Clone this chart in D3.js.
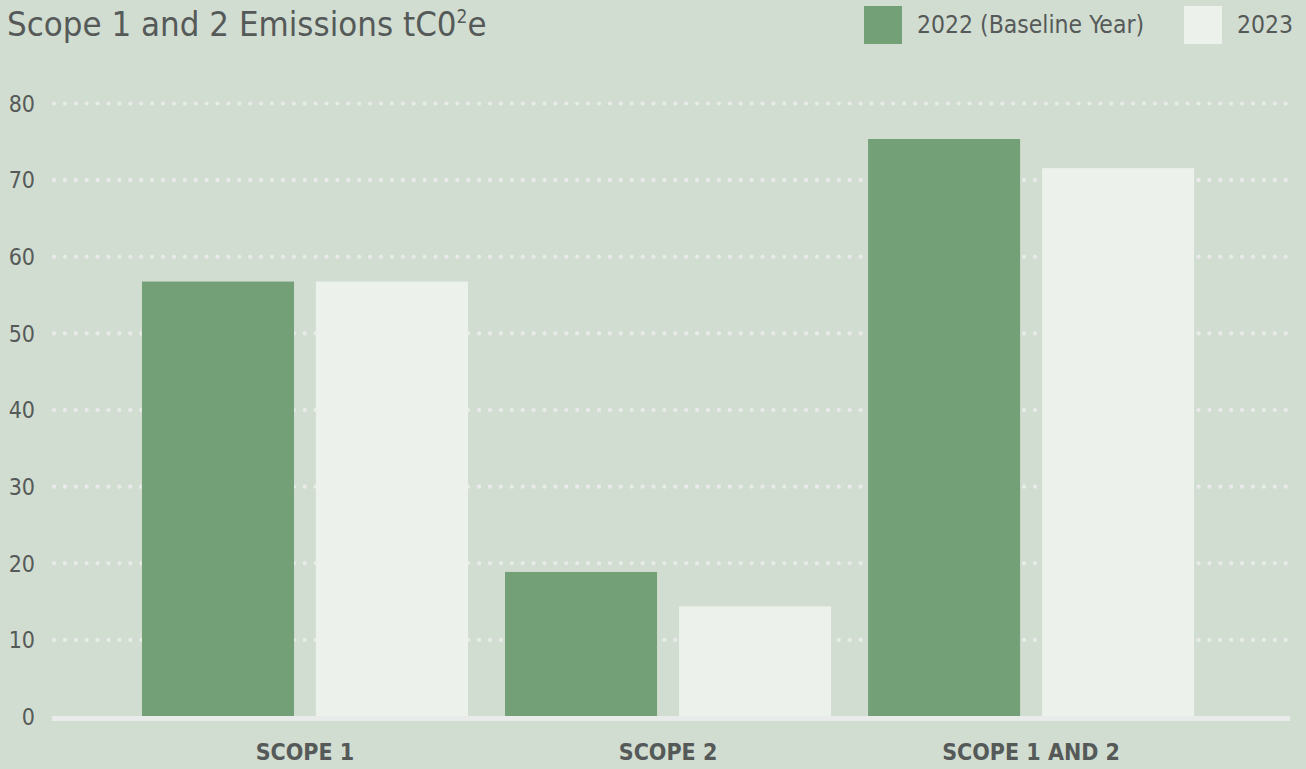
<!DOCTYPE html>
<html>
<head>
    <meta charset="utf-8">
    <title>Scope 1 and 2 Emissions</title>
    <script src="https://d3js.org/d3.v7.min.js"></script>
    <style>
        body { margin: 0; background: #d2ddd1; }
        text { font-family: "Liberation Sans Narrow", "DejaVu Sans Condensed", "Roboto", sans-serif; fill: #555a59; }
    </style>
</head>
<body>
<div id="chart"></div>
<script type="text/javascript">

    // data
    let categories = ["SCOPE 1", "SCOPE 2", "SCOPE 1 AND 2"];
    let series = ["2022 (Baseline Year)", "2023"];
    let values2022 = [56.7, 18.8, 75.3];
    let values2023 = [56.7, 14.3, 71.5];
    let yTicks = [0, 10, 20, 30, 40, 50, 60, 70, 80];

    let colors = ["#74a078", "#ecf1eb"];

    let W = 1306, H = 769;
    let margin = {top: 103, right: 16, bottom: 53, left: 52};

    let svg = d3.select("#chart")
            .append("svg")
                .attr("width", W)
                .attr("height", H);

    svg.append("rect")
        .attr("width", W).attr("height", H)
        .attr("fill", "#d2ddd1");

    let yScale = d3.scaleLinear()
            .domain([0, 80])
            .range([H - margin.bottom, margin.top]);

    let xScale = d3.scaleBand()
            .domain(categories)
            .range([margin.left, W - margin.right])
            .paddingInner(0.102)
            .paddingOuter(0.256)
            .align(0.484);

    let xSub = d3.scaleBand()
            .domain(series)
            .range([0, xScale.bandwidth()])
            .paddingInner(0.126);

    // dotted grid
    let yAxis = d3.axisLeft(yScale)
            .tickValues(yTicks)
            .tickSize(-(W - margin.left - margin.right))
            .tickPadding(17);

    let gy = svg.append("g")
        .attr("transform", "translate(" + margin.left + ",0)")
        .call(yAxis);
    gy.select(".domain").remove();
    gy.selectAll(".tick line")
        .attr("stroke", "#e9ebea")
        .attr("stroke-width", 4.2)
        .attr("stroke-linecap", "round")
        .attr("stroke-dasharray", "0 10.9")
        .attr("x1", 2)
        .filter(d => d === 0).remove();
    gy.selectAll(".tick text")
        .attr("font-size", "23px")
        .attr("fill", "#555a59")
        .attr("x", -17)
        .attr("dy", "0.36em");

    let rows = categories.map((c, i) => ({cat: c, vals: [values2022[i], values2023[i]]}));

    let groups = svg.selectAll("g.group")
            .data(rows)
            .enter()
            .append("g")
            .attr("class", "group")
            .attr("transform", d => "translate(" + xScale(d.cat) + ",0)");

    groups.selectAll("rect")
            .data(d => d.vals.map((v, j) => ({key: series[j], value: v, j: j})))
            .enter()
            .append("rect")
            .attr("x", d => xSub(d.key))
            .attr("y", d => yScale(d.value))
            .attr("width", xSub.bandwidth())
            .attr("height", d => yScale(0) - yScale(d.value))
            .attr("fill", d => colors[d.j]);

    // baseline
    svg.append("line")
        .attr("x1", margin.left).attr("x2", W - margin.right)
        .attr("y1", yScale(0) + 2.5).attr("y2", yScale(0) + 2.5)
        .attr("stroke", "#e8ebe9")
        .attr("stroke-width", 5);

    // x labels
    let xAxis = d3.axisBottom(xScale).tickSize(0).tickPadding(0);
    let gx = svg.append("g")
        .attr("transform", "translate(0," + (H - margin.bottom) + ")")
        .call(xAxis);
    gx.select(".domain").remove();
    gx.selectAll(".tick text")
        .attr("font-size", "23px")
        .attr("font-weight", "bold")
        .attr("fill", "#555a59")
        .attr("y", 44)
        .attr("dy", 0);

    // title
    let title = svg.append("text")
        .attr("x", 7)
        .attr("y", 36)
        .attr("font-size", "34.5px")
        .text("Scope 1 and 2 Emissions tC0");
    title.append("tspan")
        .attr("font-size", "19px")
        .attr("dy", -13)
        .text("2");
    title.append("tspan")
        .attr("dy", 13)
        .text("e");

    // legend
    let legendX = [864, 1184];
    let legend = svg.selectAll("g.legend")
            .data(series)
            .enter()
            .append("g")
            .attr("class", "legend")
            .attr("transform", (d, i) => "translate(" + legendX[i] + ",6)");
    legend.append("rect")
        .attr("width", 38).attr("height", 38)
        .attr("fill", (d, i) => colors[i]);
    legend.append("text")
        .attr("x", 53)
        .attr("y", 27)
        .attr("font-size", "24.5px")
        .text(d => d);

</script>
</body>
</html>
